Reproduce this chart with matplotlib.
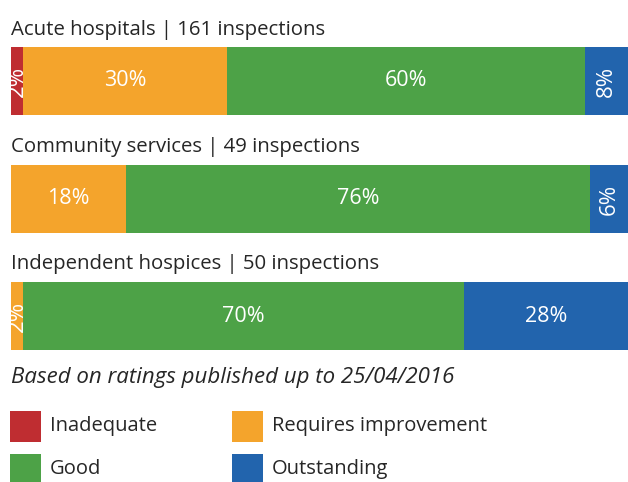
import matplotlib
matplotlib.use("Agg")
import matplotlib.pyplot as plt
from matplotlib.patches import Rectangle

# ---- data ----
groups = ["Acute hospitals | 161 inspections",
          "Community services | 49 inspections",
          "Independent hospices | 50 inspections"]
categories = ["Inadequate", "Requires improvement", "Good", "Outstanding"]
# segment shares as drawn (percent of bar)
acute = [2, 33, 58, 7]
community = [0, 18.6, 75.2, 6.2]
hospices = [0, 2, 71.4, 26.6]
# printed labels
acute_labels = ["2%", "30%", "60%", "8%"]
community_labels = ["", "18%", "76%", "6%"]
hospices_labels = ["", "2%", "70%", "28%"]
footnote = "Based on ratings published up to 25/04/2016"

colors = ["#BF2D31", "#F4A42C", "#4DA247", "#2264AD"]
values = [acute, community, hospices]
labels = [acute_labels, community_labels, hospices_labels]

W, H = 628, 482
fig = plt.figure(figsize=(W / 100, H / 100), dpi=100)
font = "Open Sans"
txt_color = "#262626"

# overlay axes in pixel coordinates
ov = fig.add_axes([0, 0, 1, 1])
ov.set_xlim(0, W)
ov.set_ylim(H, 0)
ov.axis("off")

# bar axes: x 0..100 maps to pixel 11..628
x0, x1 = 11, 628
ax = fig.add_axes([x0 / W, 0, (x1 - x0) / W, 1])
ax.set_xlim(0, 100)
ax.set_ylim(H, 0)
ax.axis("off")

bar_centers = [81, 199, 316]
bar_h = 68
title_y = [30, 147, 264]

for gi, (vals, labs) in enumerate(zip(values, labels)):
    left = 0
    tot = sum(vals)
    for ci, (v, lab) in enumerate(zip(vals, labs)):
        w = v / tot * 100
        if w > 0:
            ax.barh(bar_centers[gi], w, left=left, height=bar_h,
                    color=colors[ci], edgecolor="none")
            if lab:
                narrow = w < 9
                ax.text(left + w / 2, bar_centers[gi], lab,
                        rotation=90 if narrow else 0,
                        ha="center", va="center", color="white",
                        fontsize=16 if narrow else 15.5, family=font)
        left += w
    ov.text(11, title_y[gi], groups[gi], ha="left", va="center",
            fontsize=14.7, family=font, color=txt_color)

ov.text(11, 378, footnote, ha="left", va="center", fontsize=16,
        family=font, style="italic", color=txt_color)

# legend
leg_pos = [(10, 411), (232, 411), (10, 454), (232, 454)]
for (lx, ly), c, name in zip(leg_pos, colors, categories):
    ov.add_patch(Rectangle((lx, ly), 31, 31, color=c, lw=0))
    ov.text(lx + 40, ly + 15, name, ha="left", va="center",
            fontsize=14.5, family=font, color=txt_color)

fig.savefig("out.png", dpi=100)
